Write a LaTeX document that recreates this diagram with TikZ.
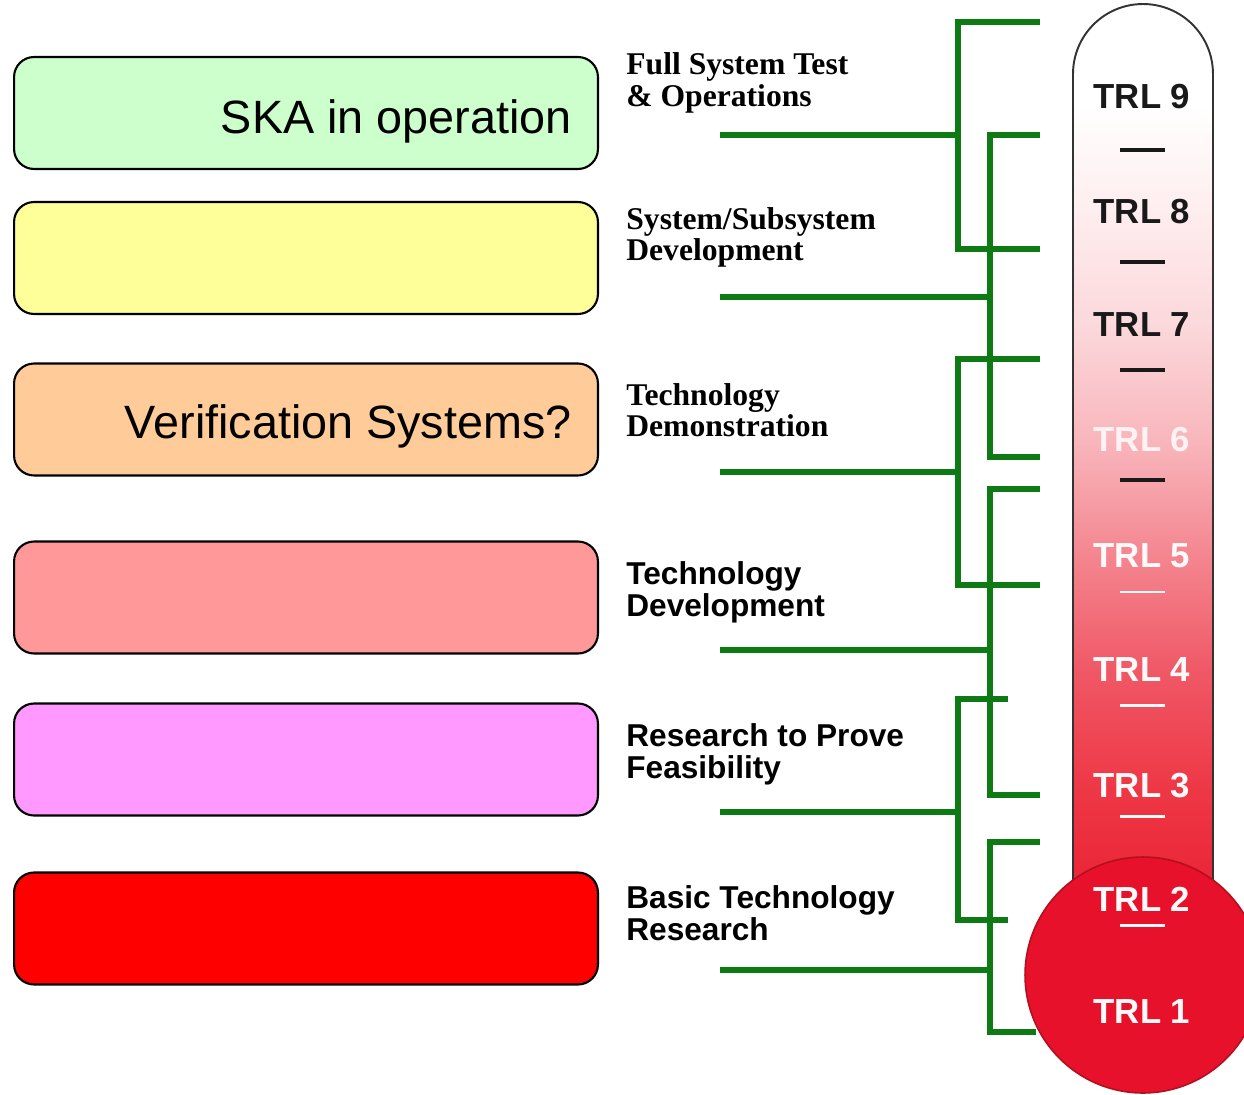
\documentclass[tikz,border=0pt]{standalone}
\usepackage{fontspec}
\setmainfont{Liberation Serif}
\setsansfont{Liberation Sans}
\definecolor{gline}{RGB}{14,122,20}
\definecolor{cgreen}{HTML}{CCFFCC}
\definecolor{cyellow}{HTML}{FFFF99}
\definecolor{corange}{HTML}{FFCC99}
\definecolor{csalmon}{HTML}{FF9999}
\definecolor{cpink}{HTML}{FF99FF}
\definecolor{cred}{HTML}{FF0000}
\definecolor{bulb}{HTML}{E8112B}
\definecolor{bulbedge}{HTML}{B3101F}
\definecolor{tz}{HTML}{EA2234}
\definecolor{ta}{HTML}{EE3846}
\definecolor{tb}{HTML}{F05866}
\definecolor{tc}{HTML}{F4858F}
\definecolor{td}{HTML}{F8B6BC}
\definecolor{te}{HTML}{FBD8DB}
\definecolor{tf}{HTML}{FEEDEE}
\definecolor{tg}{HTML}{FFFFFF}
\pgfdeclareverticalshading{tubeshade}{100bp}{color(0bp)=(tz); color(25bp)=(tz); color(31.35bp)=(ta); color(37.81bp)=(tb); color(44.15bp)=(tc); color(50.61bp)=(td); color(57.02bp)=(te); color(63.31bp)=(tf); color(69.5bp)=(tg); color(75bp)=(tg); color(100bp)=(tg)}
\begin{document}
\begin{tikzpicture}[x=0.02cm,y=-0.02cm,
  stagebox/.style={draw=black, line width=1.2pt, rounded corners=0.4cm, minimum width=11.68cm, minimum height=2.24cm, inner sep=0pt},
  boxtext/.style={font=\sffamily\fontsize{26.6}{30}\selectfont, inner sep=0pt, anchor=base east},
  serlabel/.style={font=\rmfamily\bfseries\fontsize{18}{17.5}\selectfont, anchor=base west, inner sep=0pt},
  sanlabel/.style={font=\sffamily\bfseries\fontsize{18}{17.5}\selectfont, anchor=base west, inner sep=0pt},
  trl/.style={font=\sffamily\bfseries\fontsize{19.8}{20}\selectfont, inner sep=0pt},
  gconn/.style={draw=gline, line width=3.1pt},
  tickmark/.style={line width=2.2pt}]
\useasboundingbox (0,0) rectangle (1244,1095);
\clip (0,0) rectangle (1244,1095);

% stage boxes
\node[stagebox, fill=cgreen]  (b1) at (306,113) {};
\node[stagebox, fill=cyellow] (b2) at (306,258) {};
\node[stagebox, fill=corange] (b3) at (306,419.5) {};
\node[stagebox, fill=csalmon] (b4) at (306,597.5) {};
\node[stagebox, fill=cpink]   (b5) at (306,759.5) {};
\node[stagebox, fill=cred]    (b6) at (306,928.5) {};
\node[boxtext] (t1) at (572,133) {SKA in operation};
\node[boxtext] (t3) at (572,438) {Verification Systems?};

% labels
\newcommand\twolines[2]{\begin{tabular}[t]{@{}l@{}}#1\\#2\end{tabular}}
\node[serlabel] (l1) at (626,75)  {\twolines{Full System Test}{\& Operations}};
\node[serlabel] (l2) at (626,229) {\twolines{System/Subsystem}{Development}};
\node[serlabel] (l3) at (626,405) {\twolines{Technology}{Demonstration}};
\node[sanlabel] (l4) at (626,584) {\twolines{Technology}{Development}};
\node[sanlabel] (l5) at (626,746) {\twolines{Research to Prove}{Feasibility}};
\node[sanlabel] (l6) at (626,908) {\twolines{Basic Technology}{Research}};

% green brackets
\coordinate (Al) at (720,135);  \coordinate (Aj) at (958,135);
\coordinate (At) at (1040,22);  \coordinate (Ab) at (1040,249);
\coordinate (Bl) at (720,297);  \coordinate (Bj) at (990,297);
\coordinate (Bt) at (1040,135); \coordinate (Bb) at (1040,457);
\coordinate (Cl) at (720,472);  \coordinate (Cj) at (958,472);
\coordinate (Ct) at (1040,359); \coordinate (Cb) at (1040,585);
\coordinate (Dl) at (720,650);  \coordinate (Dj) at (990,650);
\coordinate (Dt) at (1040,489); \coordinate (Db) at (1040,795);
\coordinate (El) at (720,812);  \coordinate (Ej) at (958,812);
\coordinate (Et) at (1008,699); \coordinate (Eb) at (1008,920);
\coordinate (Fl) at (720,970);  \coordinate (Fj) at (990,970);
\coordinate (Ft) at (1040,842); \coordinate (Fb) at (1036,1032);
\foreach \k in {A,B,C,D,E,F}{
  \draw[gconn] (\k t) -- (\k t -| \k j) -- (\k b -| \k j) -- (\k b);
  \draw[gconn] (\k l) -- (\k j);
}

% thermometer
\shade[shading=tubeshade] (1073,900) -- (1073,74) arc[start angle=180, end angle=0, radius=1.4cm] -- (1213,900) -- cycle;
\draw[line width=1.1pt, black!80] (1073,900) -- (1073,74) arc[start angle=180, end angle=0, radius=1.4cm] -- (1213,900);
\fill[bulb] (1143,975) circle[radius=2.36cm];
\draw[bulbedge, line width=0.9pt] (1143,975) circle[radius=2.36cm];

\node[trl, text=black!90] (r9) at (1142,97)  {TRL 9};
\node[trl, text=black!90] (r8) at (1142,212) {TRL 8};
\node[trl, text=black!90] (r7) at (1142,325) {TRL 7};
\node[trl, text=white!80!pink] (r6) at (1142,440) {TRL 6};
\node[trl, text=white!92!pink] (r5) at (1142,556) {TRL 5};
\node[trl, text=white!92!pink] (r4) at (1142,670) {TRL 4};
\node[trl, text=white!92!pink] (r3) at (1142,786) {TRL 3};
\node[trl, text=white!92!pink] (r2) at (1142,899) {TRL 2};
\node[trl, text=white!92!pink] (r1) at (1142,1012) {TRL 1};
\foreach \y in {150,262,370,480}{\draw[tickmark, black!90] (1120,\y) -- (1165,\y);}
\foreach \y in {592,705,816,925}{\draw[tickmark, line width=1.7pt, white!92!pink] (1120,\y) -- (1165,\y);}
\end{tikzpicture}
\end{document}
